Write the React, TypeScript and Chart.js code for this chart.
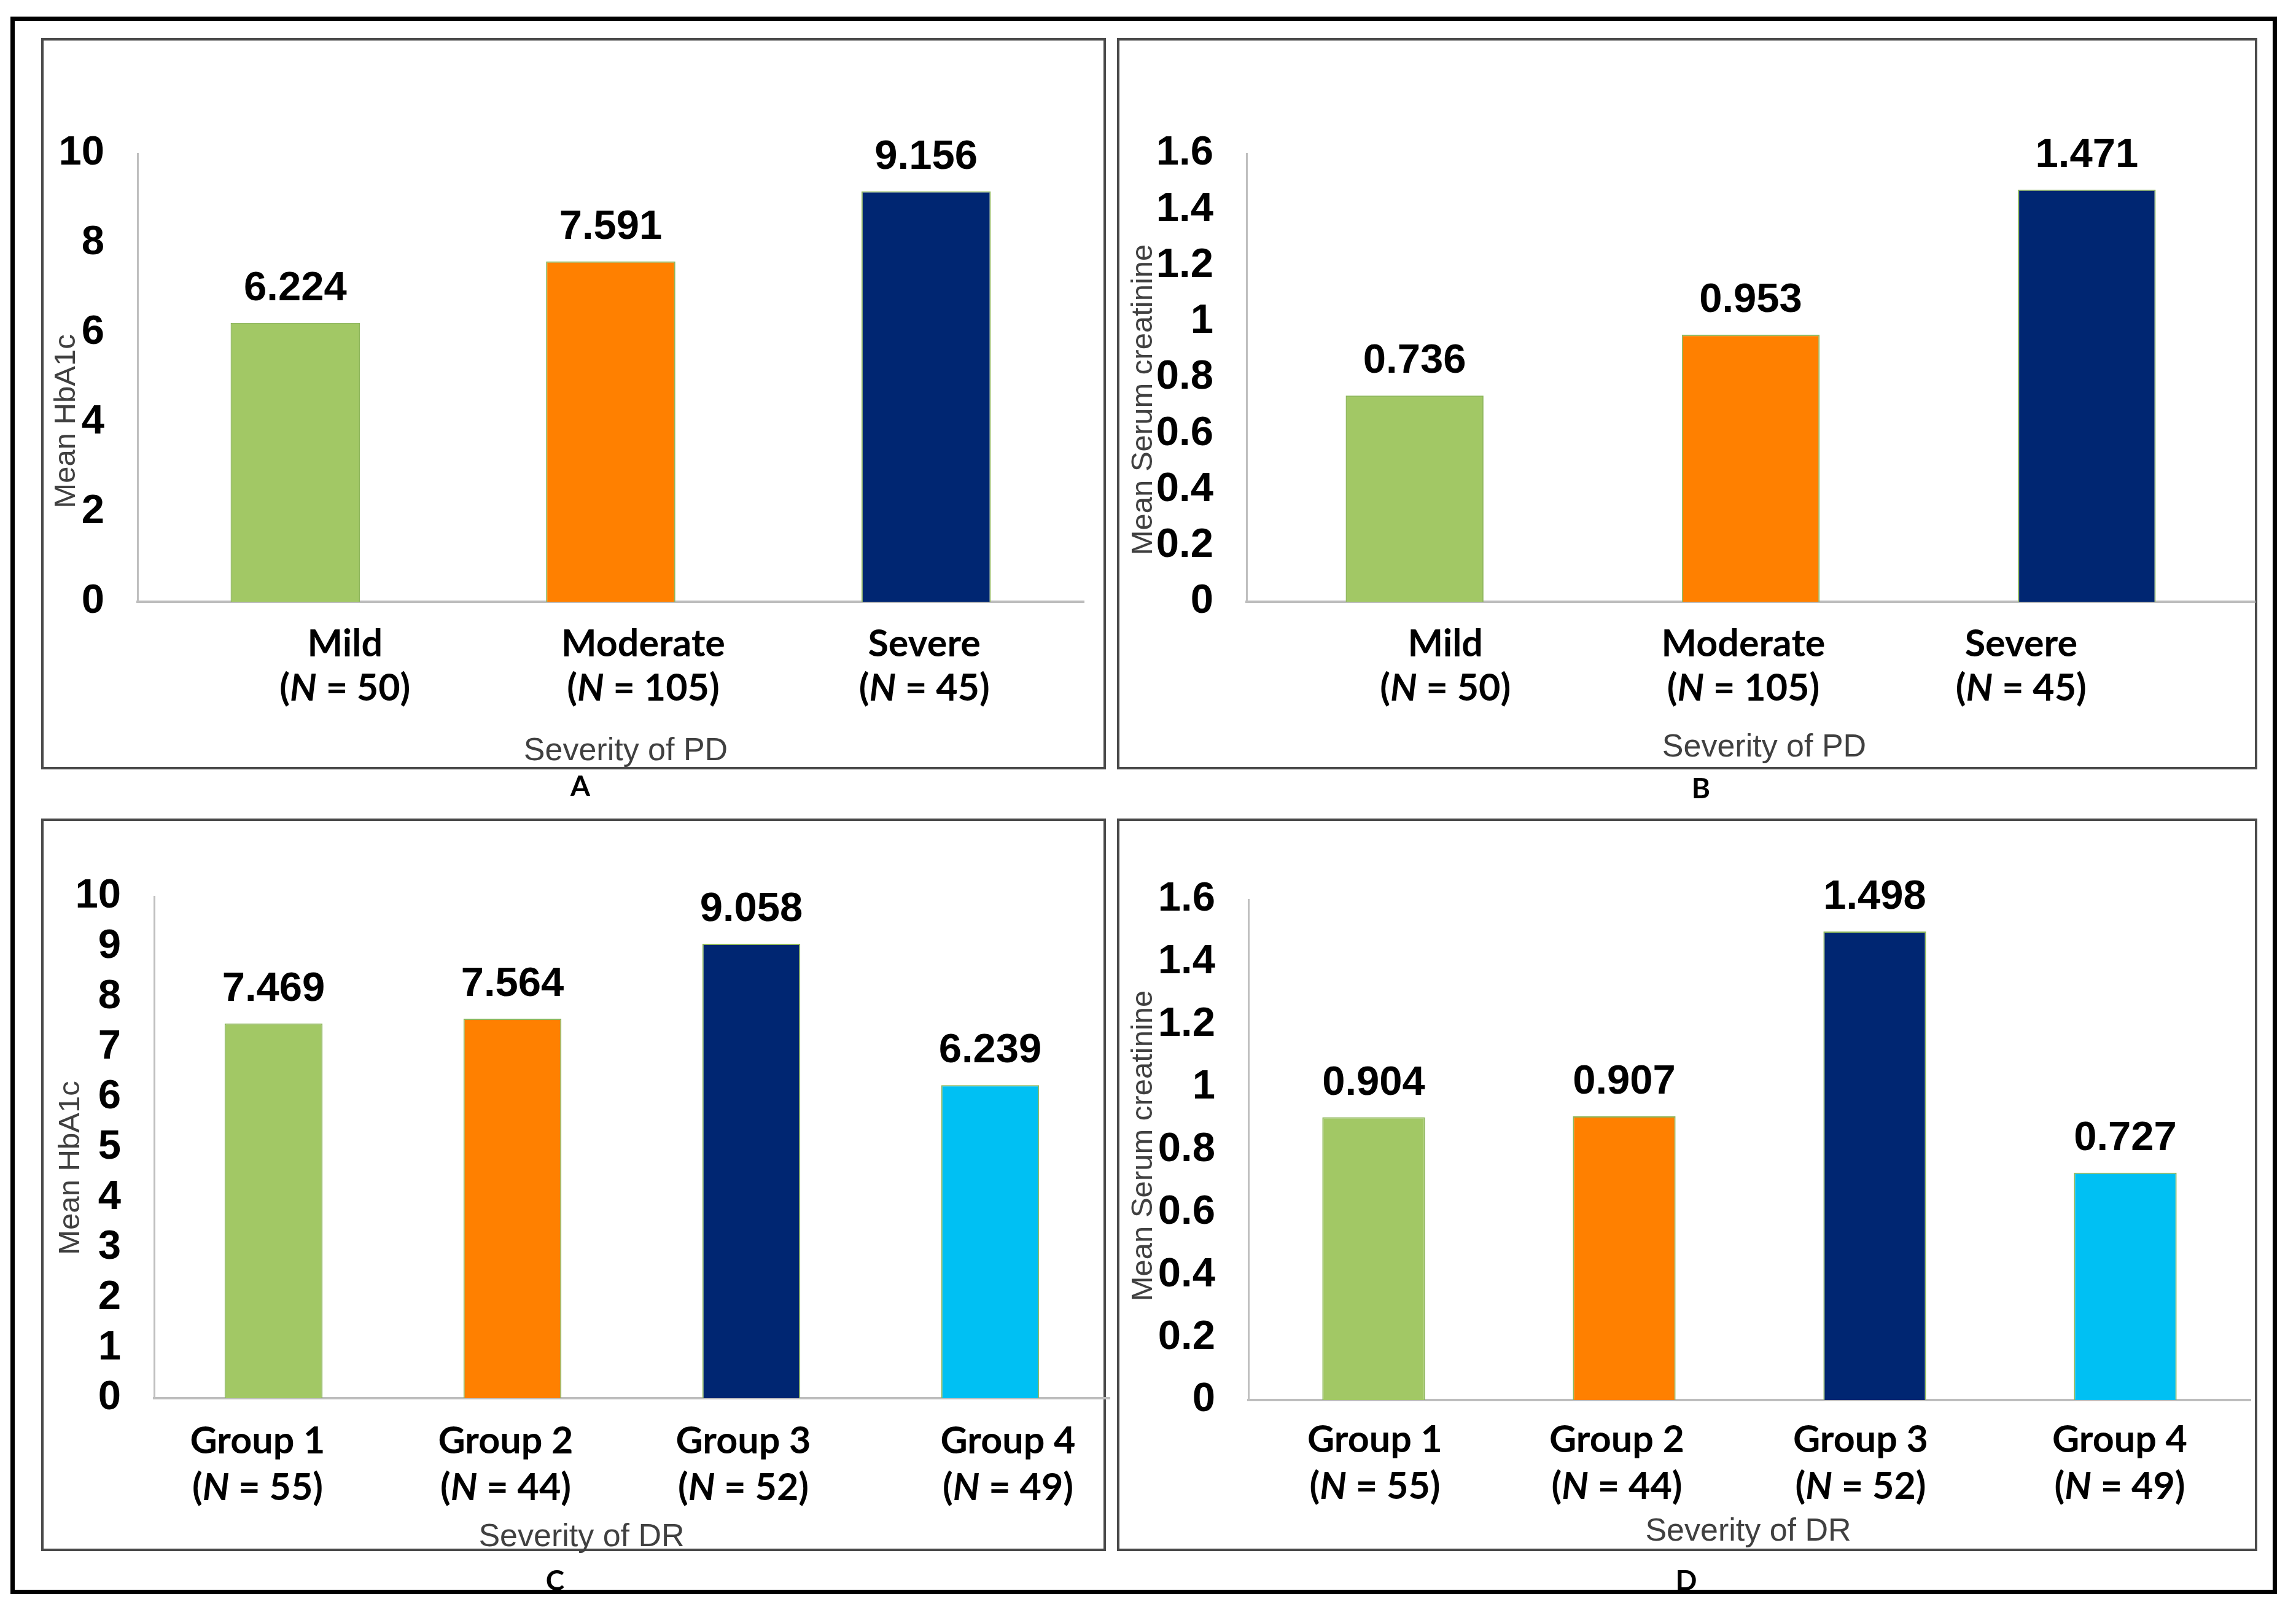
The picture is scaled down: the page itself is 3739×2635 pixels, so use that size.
import React, { useEffect, useRef } from 'react';
import { Chart, registerables } from 'chart.js';

Chart.register(...registerables);

// ---------------- data ----------------
const pdCategories = ['Mild', 'Moderate', 'Severe'];
const pdCounts = [50, 105, 45];
const drCategories = ['Group 1', 'Group 2', 'Group 3', 'Group 4'];
const drCounts = [55, 44, 52, 49];

const hba1cByPD = [6.224, 7.591, 9.156];
const creatinineByPD = [0.736, 0.953, 1.471];
const hba1cByDR = [7.469, 7.564, 9.058, 6.239];
const creatinineByDR = [0.904, 0.907, 1.498, 0.727];

const hba1cTicksPD = [0, 2, 4, 6, 8, 10];
const hba1cTicksDR = [0, 1, 2, 3, 4, 5, 6, 7, 8, 9, 10];
const creatinineTicks = [0, 0.2, 0.4, 0.6, 0.8, 1, 1.2, 1.4, 1.6];

const barColors = ['#A2C865', '#FF8000', '#002672', '#00C0F3'];

// ---------------- layout / style ----------------
const W = 3739;
const H = 2635;
const ARIAL = "'Liberation Sans', Arial, sans-serif";
const LATO = "Lato, 'Liberation Sans', sans-serif";

type PanelDef = {
  letter: string;
  values: number[];
  cats: string[];
  counts: number[];
  ticks: number[];
  yTitle: string;
  xTitle: string;
  area: { left: number; top: number; right: number; bottom: number };
  nudges: number[];
  catY: [number, number];
  xTitlePos: [number, number];
  yTitlePos: [number, number];
  letterPos: [number, number];
};

const panels: PanelDef[] = [
  {
    letter: 'A', values: hba1cByPD, cats: pdCategories, counts: pdCounts, ticks: hba1cTicksPD,
    yTitle: 'Mean HbA1c', xTitle: 'Severity of PD',
    area: { left: 224, top: 250, right: 1765, bottom: 980 },
    nudges: [81, 53, -3], catY: [1069, 1141], xTitlePos: [1019, 1238], yTitlePos: [105, 686], letterPos: [945, 1296],
  },
  {
    letter: 'B', values: creatinineByPD, cats: pdCategories, counts: pdCounts, ticks: creatinineTicks,
    yTitle: 'Mean Serum creatinine', xTitle: 'Severity of PD',
    area: { left: 2030, top: 250, right: 3672, bottom: 980 },
    nudges: [50, -12, -107], catY: [1069, 1141], xTitlePos: [2873, 1232], yTitlePos: [1859, 651], letterPos: [2770, 1300],
  },
  {
    letter: 'C', values: hba1cByDR, cats: drCategories, counts: drCounts, ticks: hba1cTicksDR,
    yTitle: 'Mean HbA1c', xTitle: 'Severity of DR',
    area: { left: 251, top: 1460, right: 1807, bottom: 2277 },
    nudges: [-26, -11, -13, 29], catY: [2367, 2443], xTitlePos: [947, 2518], yTitlePos: [112, 1902], letterPos: [904, 2590],
  },
  {
    letter: 'D', values: creatinineByDR, cats: drCategories, counts: drCounts, ticks: creatinineTicks,
    yTitle: 'Mean Serum creatinine', xTitle: 'Severity of DR',
    area: { left: 2033, top: 1465, right: 3665, bottom: 2280 },
    nudges: [2, -12, -23, -9], catY: [2365, 2441], xTitlePos: [2847, 2509], yTitlePos: [1859, 1866], letterPos: [2746, 2590],
  },
];

const panelBoxes = [
  { left: 67, top: 62, right: 1801, bottom: 1253 },
  { left: 1819, top: 62, right: 3676, bottom: 1253 },
  { left: 67, top: 1333, right: 1801, bottom: 2526 },
  { left: 1819, top: 1333, right: 3676, bottom: 2526 },
];

function makeTextPlugin(p: PanelDef) {
  return {
    id: 'panelText' + p.letter,
    afterDatasetsDraw(chart: any) {
      const ctx: CanvasRenderingContext2D = chart.ctx;
      ctx.save();
      ctx.fillStyle = '#000';
      ctx.textBaseline = 'alphabetic';

      // value labels
      ctx.textAlign = 'center';
      ctx.font = `bold 67px ${ARIAL}`;
      const meta = chart.getDatasetMeta(0);
      meta.data.forEach((bar: any, i: number) => {
        ctx.fillText(p.values[i].toFixed(3), bar.x, bar.y - 37);
      });

      // category labels
      const xs = chart.scales.x;
      p.cats.forEach((c, i) => {
        const cx = xs.getPixelForValue(i) + p.nudges[i];
        ctx.textAlign = 'center';
        ctx.font = `bold 61px ${LATO}`;
        ctx.fillText(c, cx, p.catY[0]);
        const segs = [
          { t: '(', f: `bold 61px ${LATO}` },
          { t: 'N', f: `italic bold 61px ${LATO}` },
          { t: ' = ' + p.counts[i] + ')', f: `bold 61px ${LATO}` },
        ];
        let total = 0;
        segs.forEach((s) => { ctx.font = s.f; total += ctx.measureText(s.t).width; });
        let x = cx - total / 2;
        ctx.textAlign = 'left';
        segs.forEach((s) => { ctx.font = s.f; ctx.fillText(s.t, x, p.catY[1]); x += ctx.measureText(s.t).width; });
      });

      // axis titles
      ctx.fillStyle = '#404040';
      ctx.textAlign = 'center';
      ctx.font = `52px ${ARIAL}`;
      ctx.fillText(p.xTitle, p.xTitlePos[0], p.xTitlePos[1]);
      ctx.save();
      ctx.font = `49px ${ARIAL}`;
      ctx.translate(p.yTitlePos[0] + 17, p.yTitlePos[1]);
      ctx.rotate(-Math.PI / 2);
      ctx.fillText(p.yTitle, 0, 0);
      ctx.restore();

      // panel letter
      ctx.fillStyle = '#000';
      ctx.font = `bold 46px ${LATO}`;
      ctx.fillText(p.letter, p.letterPos[0], p.letterPos[1]);
      ctx.restore();
    },
  };
}

function PanelChart({ p }: { p: PanelDef }) {
  const ref = useRef<HTMLCanvasElement>(null);
  useEffect(() => {
    const canvas = ref.current!;
    const yAxisWidth = 220;
    const chart = new Chart(canvas, {
      type: 'bar',
      data: {
        labels: p.cats,
        datasets: [
          {
            data: p.values,
            backgroundColor: barColors.slice(0, p.values.length),
            borderColor: '#8DB65A',
            borderWidth: 2,
            barPercentage: 0.41,
            categoryPercentage: 1,
          },
        ],
      },
      options: {
        animation: false,
        responsive: false,
        devicePixelRatio: 1,
        layout: {
          padding: {
            left: p.area.left - yAxisWidth,
            top: p.area.top,
            right: W - p.area.right,
            bottom: H - p.area.bottom,
          },
        },
        plugins: { legend: { display: false }, tooltip: { enabled: false } },
        scales: {
          x: {
            type: 'category',
            grid: { display: false, drawTicks: false },
            border: { display: true, color: '#BDBDBD', width: 4 },
            ticks: { display: false },
            afterFit: (s: any) => { s.height = 0; },
          },
          y: {
            type: 'linear',
            min: 0,
            max: p.ticks[p.ticks.length - 1],
            grid: { display: false, drawTicks: false },
            border: { display: true, color: '#BFBFBF', width: 3 },
            afterBuildTicks: (s: any) => { s.ticks = p.ticks.map((v) => ({ value: v })); },
            afterFit: (s: any) => { s.width = yAxisWidth; },
            ticks: {
              autoSkip: false,
              padding: 54,
              color: '#000',
              font: { family: ARIAL, size: 67, weight: 'bold' },
              callback: (v: any) => String(Math.round(Number(v) * 10) / 10),
            },
          },
        },
      },
      plugins: [makeTextPlugin(p)],
    } as any);
    return () => chart.destroy();
  }, []);
  return (
    <canvas
      ref={ref}
      width={W}
      height={H}
      style={{ position: 'absolute', left: 0, top: 0, width: W, height: H }}
    />
  );
}

export default function App() {
  return (
    <div style={{ position: 'fixed', left: 0, top: 0, width: W, height: H, background: '#fff', overflow: 'hidden' }}>
      <div
        style={{
          position: 'absolute', left: 17, top: 27, width: 3708 - 17, height: 2596 - 27,
          border: '7px solid #000', boxSizing: 'border-box',
        }}
      />
      {panelBoxes.map((b, i) => (
        <div
          key={i}
          style={{
            position: 'absolute', left: b.left, top: b.top, width: b.right - b.left, height: b.bottom - b.top,
            border: '4px solid #4A4A4A', boxSizing: 'border-box',
          }}
        />
      ))}
      {panels.map((p) => (
        <PanelChart key={p.letter} p={p} />
      ))}
    </div>
  );
}
